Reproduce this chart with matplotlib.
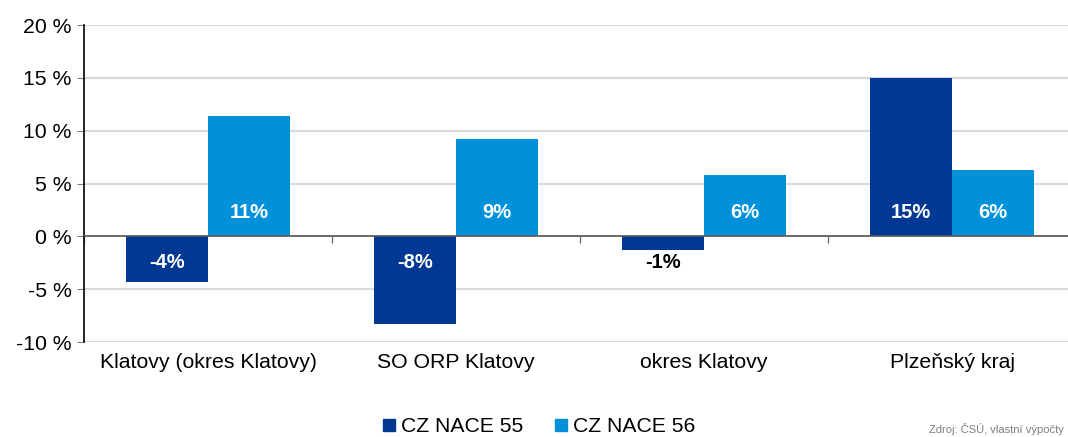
import matplotlib.pyplot as plt
import numpy as np
from matplotlib.lines import Line2D

plt.rcParams['font.family'] = ['Liberation Sans', 'DejaVu Sans']

# data
categories = ['Klatovy (okres Klatovy)', 'SO ORP Klatovy', 'okres Klatovy', 'Plzeňský kraj']
nace55 = [-4.3, -8.3, -1.3, 15.0]
nace56 = [11.4, 9.2, 5.8, 6.3]
labels55 = ['-4%', '-8%', '-1%', '15%']
labels56 = ['11%', '9%', '6%', '6%']
series_names = ['CZ NACE 55', 'CZ NACE 56']
yticks = [-10, -5, 0, 5, 10, 15, 20]

c_dark = '#003893'
c_light = '#0091DA'

fig = plt.figure(figsize=(10.68, 4.37), dpi=100)
ax = fig.add_axes([84/1068, 1 - 342/437, (1076 - 84)/1068, (342 - 25)/437])

x = np.arange(len(categories))
w = 0.33
ax.bar(x - w/2 - 0.002, nace55, w, color=c_dark, zorder=3)
ax.bar(x + w/2 + 0.002, nace56, w, color=c_light, zorder=3)

# value labels near the base of each bar
for i in range(len(categories)):
    v = nace55[i]
    inside = abs(v) > 3
    ypos = 2.3 if v > 0 else -2.5
    ax.text(x[i] - w/2, ypos, labels55[i], ha='center', va='center',
            fontsize=14.5, fontweight='bold', color='white' if inside else 'black', zorder=4)
    v = nace56[i]
    ypos = 2.3 if v > 0 else -2.5
    ax.text(x[i] + w/2, ypos, labels56[i], ha='center', va='center',
            fontsize=14.5, fontweight='bold', color='white', zorder=4)

ax.set_xlim(-0.5, len(categories) - 0.5)
ax.set_ylim(-10, 20)
ax.set_yticks(yticks)
ax.set_yticklabels([f'{t} %' for t in yticks], fontsize=15.3)
ax.yaxis.grid(True, color='#d9d9d9', linewidth=1.5, zorder=0)
ax.tick_params(axis='y', length=5, color='#808080', pad=4)

ax.set_xticks(x)
ax.set_xticklabels(categories, fontsize=15.3)
ax.tick_params(axis='x', length=0, pad=8)

for s in ['top', 'right', 'bottom']:
    ax.spines[s].set_visible(False)
ax.spines['left'].set_color('black')
ax.spines['left'].set_linewidth(1.2)

ax.axhline(0, color='#595959', linewidth=1.2, zorder=5)
sec = ax.secondary_xaxis(1/3)
sec.set_xticks(np.arange(len(categories) + 1) - 0.5)
sec.set_xticklabels([])
sec.tick_params(length=5, color='#595959', direction='out')
sec.spines['bottom'].set_visible(False)

handles = [Line2D([], [], marker='s', linestyle='none', markersize=8, color=c_dark),
           Line2D([], [], marker='s', linestyle='none', markersize=8, color=c_light)]
fig.legend(handles, series_names, loc='center', bbox_to_anchor=(538/1068, 1 - 427/437),
           ncol=2, frameon=False, fontsize=15.2, handletextpad=0.15, columnspacing=1.4,
           handlelength=0.8)

fig.text(1064/1068, 2/437, 'Zdroj: ČSÚ, vlastní výpočty', fontsize=8, color='#7f7f7f',
         ha='right', va='bottom')

fig.savefig('out.png', dpi=100)
